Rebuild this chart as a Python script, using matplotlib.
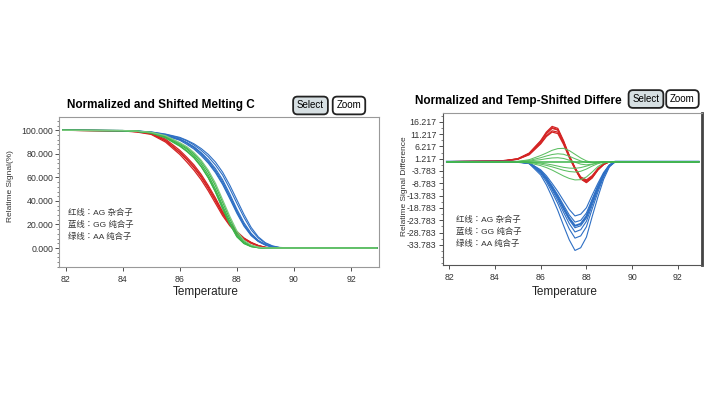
import matplotlib
matplotlib.use("Agg")
import matplotlib.pyplot as plt
from matplotlib.ticker import AutoMinorLocator, FixedLocator, FormatStrFormatter

plt.rcParams['font.family'] = ['Liberation Sans', 'Noto Sans CJK SC', 'DejaVu Sans']

# Температурная сетка (общая для обоих графиков)
temps = [81.9, 84.0, 84.5, 85.0, 85.5, 86.0, 86.25, 86.5, 86.75, 87.0, 87.25,
         87.5, 87.75, 88.0, 88.25, 88.5, 88.75, 89.0, 89.25, 89.5, 90.0, 92.9]

# Кривые плавления (левый график), %
melt_red = [
    [100, 99.6, 98.8, 97.0, 91.0, 81.0, 75.0, 68.0, 60.0, 50.5, 40.0, 29.0, 20.0, 13.0, 8.0, 4.5, 2.0, 0.5, 0, 0, 0, 0],
    [100, 99.5, 98.5, 96.5, 90.0, 79.5, 73.0, 66.0, 58.0, 48.5, 38.0, 27.5, 19.0, 12.5, 7.5, 4.0, 1.8, 0.4, 0, 0, 0, 0],
    [100, 99.7, 99.1, 97.6, 92.5, 83.0, 77.0, 70.5, 62.5, 53.0, 42.5, 31.0, 21.5, 14.0, 8.5, 4.8, 2.2, 0.6, 0.1, 0, 0, 0],
    [100, 99.6, 98.9, 97.2, 91.5, 81.5, 75.5, 69.0, 61.0, 51.5, 41.0, 30.0, 20.5, 13.5, 8.0, 4.3, 1.9, 0.5, 0, 0, 0, 0],
]
melt_blue = [
    [100, 99.8, 99.3, 98.3, 96.0, 92.5, 89.5, 86.0, 81.0, 75.0, 67.5, 58.0, 46.0, 33.0, 21.5, 12.5, 6.5, 3.0, 1.0, 0.2, 0, 0],
    [100, 99.8, 99.4, 98.5, 96.5, 93.5, 91.0, 87.5, 83.0, 77.5, 70.5, 62.0, 50.5, 38.0, 26.0, 15.5, 8.5, 4.0, 1.5, 0.4, 0, 0],
    [100, 99.7, 99.2, 98.0, 95.5, 91.5, 88.0, 84.0, 78.5, 72.0, 64.0, 54.0, 42.0, 29.5, 18.5, 10.5, 5.5, 2.5, 0.8, 0.1, 0, 0],
    [100, 99.8, 99.3, 98.2, 96.0, 92.5, 89.5, 85.5, 80.5, 74.0, 66.0, 56.5, 44.5, 31.5, 20.0, 11.5, 6.0, 2.8, 0.9, 0.2, 0, 0],
    [100, 99.8, 99.4, 98.6, 96.8, 94.0, 91.5, 88.5, 84.5, 79.5, 73.0, 64.5, 53.5, 41.0, 28.5, 17.5, 9.5, 4.5, 1.8, 0.5, 0, 0],
    [100, 99.7, 99.2, 98.1, 95.8, 92.0, 89.0, 85.0, 79.5, 73.0, 65.0, 55.0, 43.0, 30.5, 19.5, 11.0, 5.8, 2.6, 0.8, 0.2, 0, 0],
]
melt_green = [
    [100, 99.7, 99.2, 98.0, 94.5, 88.0, 84.0, 78.5, 71.5, 62.0, 50.0, 36.0, 22.5, 11.0, 4.5, 1.5, 0.4, 0, 0, 0, 0, 0],
    [100, 99.7, 99.1, 97.8, 94.0, 87.0, 82.5, 77.0, 69.5, 60.0, 48.0, 34.0, 21.0, 10.0, 4.0, 1.3, 0.3, 0, 0, 0, 0, 0],
    [100, 99.8, 99.3, 98.2, 95.0, 89.0, 85.0, 80.0, 73.5, 64.5, 53.0, 39.0, 25.0, 13.0, 5.5, 2.0, 0.5, 0, 0, 0, 0, 0],
    [100, 99.7, 99.1, 97.7, 93.5, 86.5, 82.0, 76.5, 69.0, 59.5, 47.5, 33.5, 20.5, 9.5, 3.8, 1.2, 0.3, 0, 0, 0, 0, 0],
    [100, 99.8, 99.3, 98.3, 95.5, 89.5, 86.0, 81.0, 74.5, 66.0, 55.0, 41.0, 27.0, 14.5, 6.5, 2.5, 0.8, 0.1, 0, 0, 0, 0],
]

# Разностные кривые (правый график)
diff_red = [
    [0, 0.2, 0.5, 1.2, 3.5, 8.5, 12.0, 14.3, 13.5, 8.5, 2.5, -2.5, -6.5, -7.8, -6.0, -3.0, -1.0, 0, 0, 0, 0, 0],
    [0, 0.2, 0.5, 1.1, 3.2, 8.0, 11.3, 13.5, 12.8, 8.0, 2.2, -2.7, -6.8, -8.2, -6.3, -3.2, -1.1, 0, 0, 0, 0, 0],
    [0, 0.2, 0.4, 1.0, 3.0, 7.5, 10.5, 12.5, 12.0, 7.5, 2.0, -2.8, -6.9, -8.3, -6.5, -3.3, -1.1, 0, 0, 0, 0, 0],
    [0, 0.2, 0.4, 1.0, 2.8, 7.2, 10.2, 12.0, 11.4, 7.0, 1.7, -3.0, -7.0, -8.5, -6.6, -3.4, -1.2, 0, 0, 0, 0, 0],
    [0, 0.2, 0.5, 1.1, 3.3, 8.2, 11.6, 13.8, 13.0, 8.0, 2.3, -2.5, -6.2, -7.4, -5.7, -2.8, -0.9, 0, 0, 0, 0, 0],
]
diff_blue = [
    [0, 0, 0, -0.1, -0.5, -3.3, -5.7, -8.8, -12.1, -15.8, -19.4, -22.0, -21.3, -18.7, -13.6, -8.8, -4.4, -1.3, 0, 0, 0, 0],
    [0, 0, 0, -0.1, -0.5, -3.7, -6.4, -9.8, -13.5, -17.6, -21.6, -24.5, -23.8, -20.8, -15.2, -9.8, -4.9, -1.5, 0, 0, 0, 0],
    [0, 0, 0, -0.1, -0.6, -3.9, -6.8, -10.4, -14.3, -18.7, -22.9, -26.0, -25.2, -22.1, -16.1, -10.4, -5.2, -1.6, 0, 0, 0, 0],
    [0, 0, 0, -0.1, -0.6, -4.0, -7.0, -10.7, -14.7, -19.3, -23.6, -26.8, -26.0, -22.8, -16.6, -10.7, -5.4, -1.6, 0, 0, 0, 0],
    [0, 0, 0, -0.1, -0.6, -4.3, -7.4, -11.4, -15.7, -20.5, -25.1, -28.5, -27.6, -24.2, -17.7, -11.4, -5.7, -1.7, 0, 0, 0, 0],
    [0, 0, 0, -0.1, -0.7, -4.7, -8.1, -12.4, -17.0, -22.3, -27.3, -31.0, -30.1, -26.4, -19.2, -12.4, -6.2, -1.9, 0, 0, 0, 0],
    [0, 0, 0, -0.1, -0.8, -5.4, -9.4, -14.4, -19.8, -25.9, -31.7, -36.0, -34.9, -30.6, -22.3, -14.4, -7.2, -2.2, 0, 0, 0, 0],
]
diff_green = [
    [0, 0, 0, 0.1, 0.8, 2.5, 3.5, 4.6, 5.3, 5.4, 4.5, 3.0, 1.5, 0.3, -0.3, -0.3, -0.1, 0, 0, 0, 0, 0],
    [0, 0, 0, 0.1, 0.5, 1.6, 2.3, 2.9, 3.2, 3.0, 2.2, 1.2, 0.3, -0.3, -0.4, -0.2, 0, 0, 0, 0, 0, 0],
    [0, 0, 0, 0, 0.3, 0.8, 1.2, 1.5, 1.6, 1.3, 0.6, -0.2, -1.0, -1.3, -1.0, -0.5, -0.1, 0, 0, 0, 0, 0],
    [0, 0, 0, 0, -0.2, -0.6, -0.9, -1.3, -1.8, -2.3, -2.6, -2.7, -2.4, -1.8, -1.1, -0.5, -0.1, 0, 0, 0, 0, 0],
    [0, 0, 0, 0, -0.3, -1.0, -1.5, -2.1, -2.8, -3.5, -4.0, -4.2, -3.9, -3.0, -1.8, -0.8, -0.2, 0, 0, 0, 0, 0],
    [0, 0, 0, -0.1, -0.5, -1.6, -2.4, -3.4, -4.6, -5.8, -6.8, -7.4, -7.3, -6.2, -4.2, -2.0, -0.6, 0, 0, 0, 0, 0],
]

x_ticks = [82, 84, 86, 88, 90, 92]
diff_ticks = [16.217, 11.217, 6.217, 1.217, -3.783, -8.783, -13.783, -18.783, -23.783, -28.783, -33.783]
legend_lines = ['红线：AG 杂合子', '蓝线：GG 纯合子', '绿线：AA 纯合子']

RED = '#d42424'
BLUE = '#2e6fc4'
GREEN = '#3db54a'
TXT = '#333333'

fig = plt.figure(figsize=(7.07, 3.97), dpi=100)
ax1 = fig.add_axes([0.0839, 0.3275, 0.4522, 0.3778])
ax2 = fig.add_axes([0.6262, 0.3325, 0.3667, 0.3829])

# Левый график: кривые плавления
for ys in melt_red:
    ax1.plot(temps, ys, color=RED, lw=0.9)
for ys in melt_blue:
    ax1.plot(temps, ys, color=BLUE, lw=0.8)
for i, ys in enumerate(melt_green):
    ax1.plot(temps, ys, color=GREEN if i < 4 else '#7cc97e', lw=0.9)
ax1.set_xlim(81.78, 92.98)
ax1.set_ylim(-16.1, 111.3)
ax1.set_yticks([0, 20, 40, 60, 80, 100])
ax1.yaxis.set_major_formatter(FormatStrFormatter('%.3f'))
ax1.yaxis.set_minor_locator(AutoMinorLocator(5))
ax1.set_ylabel('Relatime Signal(%)', fontsize=6, color=TXT)
ax1.yaxis.set_label_coords(-0.154, 0.54)

# Правый график: разностные кривые
for ys in diff_red:
    ax2.plot(temps, ys, color=RED, lw=0.9)
for i, ys in enumerate(diff_blue):
    ax2.plot(temps, ys, color=BLUE, lw=1.4 if i == 2 else 0.8)
for ys in diff_green:
    ax2.plot(temps, ys, color='#5cbf62', lw=0.75)
ax2.plot([temps[0], temps[-1]], [0, 0], color=GREEN, lw=1.1)
ax2.set_xlim(81.72, 93.05)
ax2.set_ylim(-41.9, 19.74)
ax2.yaxis.set_major_locator(FixedLocator(diff_ticks))
ax2.yaxis.set_major_formatter(FormatStrFormatter('%.3f'))
ax2.yaxis.set_minor_locator(AutoMinorLocator(2))
ax2.set_ylabel('Relatime Signal Difference', fontsize=6, color=TXT)
ax2.yaxis.set_label_coords(-0.149, 0.52)

for ax in (ax1, ax2):
    ax.set_xticks(x_ticks)
    ax.set_xlabel('Temperature', fontsize=8.5, color='#222222')
    ax.xaxis.label.set_verticalalignment('center')
    ax.yaxis.label.set_verticalalignment('center')
    ax.tick_params(axis='both', which='major', labelsize=6.3, colors=TXT, length=3, width=0.6, pad=1.5)
    ax.tick_params(axis='x', which='major', pad=3)
    ax.tick_params(axis='y', which='minor', length=1.5, width=0.5, colors='#555555')
    for s in ax.spines.values():
        s.set_color('#999999')
        s.set_linewidth(0.8)
ax1.xaxis.set_label_coords(0.457, -0.167)
ax2.xaxis.set_label_coords(0.472, -0.178)

ax2.spines['left'].set_color('#555555')
ax2.spines['bottom'].set_color('#555555')
ax2.spines['right'].set_color('#444444')
ax2.spines['right'].set_linewidth(2.0)

# Подписи генотипов
cjk = ['Liberation Sans', 'Noto Sans CJK TC', 'DejaVu Sans']
for k, t in enumerate(legend_lines):
    ax1.text(0.027, 0.36 - k * 0.08, t, transform=ax1.transAxes, fontsize=6, color=TXT, va='center', family=cjk)
    ax2.text(0.051, 0.296 - k * 0.079, t, transform=ax2.transAxes, fontsize=6, color=TXT, va='center', family=cjk)

# Заголовки и кнопки
fig.text(0.228, 0.7355, 'Normalized and Shifted Melting C', fontsize=8.5, fontweight='bold', ha='center', va='center')
fig.text(0.7334, 0.7463, 'Normalized and Temp-Shifted Differe', fontsize=8.5, fontweight='bold', ha='center', va='center')

sel = dict(boxstyle='round,pad=0.4,rounding_size=0.45', fc='#d6dfe2', ec='#222222', lw=1.3)
zm = dict(boxstyle='round,pad=0.4,rounding_size=0.45', fc='white', ec='#222222', lw=1.3)
fig.text(0.4392, 0.7343, 'Select', fontsize=7, ha='center', va='center', bbox=sel)
fig.text(0.4936, 0.7343, 'Zoom', fontsize=7, ha='center', va='center', bbox=zm)
fig.text(0.9137, 0.7506, 'Select', fontsize=7, ha='center', va='center', bbox=sel)
fig.text(0.9653, 0.7506, 'Zoom', fontsize=7, ha='center', va='center', bbox=zm)

fig.savefig('out.png', dpi=100)
